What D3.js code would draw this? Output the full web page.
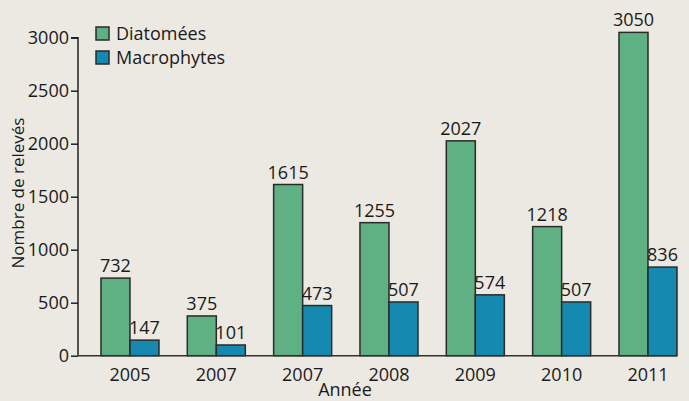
<!DOCTYPE html>
<html>
<head>
<meta charset="utf-8">
<script src="https://cdn.jsdelivr.net/npm/d3@7"></script>
<style>
  body { margin: 0; background: #ece9e3; }
  svg { display: block; font-family: "Open Sans", sans-serif; }
</style>
</head>
<body>
<div id="chart"></div>
<script>
// Données
const annees = ["2005", "2007", "2007", "2008", "2009", "2010", "2011"];
const diatomees = [732, 375, 1615, 1255, 2027, 1218, 3050];
const macrophytes = [147, 101, 473, 507, 574, 507, 836];
const series = ["Diatomées", "Macrophytes"];
const couleurs = ["#5fb184", "#1689b0"];
const yTicks = [0, 500, 1000, 1500, 2000, 2500, 3000];

const width = 689, height = 401;
const x0 = 78, x1 = 677, yBase = 355.7;
const fs = "18px";

const svg = d3.select("#chart").append("svg")
  .attr("width", width)
  .attr("height", height);

svg.append("rect")
  .attr("width", width).attr("height", height)
  .attr("fill", "#ece9e3");

// index des groupes (les années se répètent, donc on utilise l'indice)
const groupes = annees.map((d, i) => i);

const x = d3.scaleBand()
  .domain(groupes)
  .range([x0, x1])
  .paddingInner(0.328)
  .paddingOuter(0.133)
  .align(1);

const xSub = d3.scaleBand()
  .domain(series)
  .range([0, x.bandwidth()]);

const y = d3.scaleLinear()
  .domain([0, 3000])
  .range([yBase, 37.7]);

// axe Y
const yAxis = svg.append("g")
  .attr("transform", `translate(${x0},0)`)
  .call(d3.axisLeft(y).tickValues(yTicks).tickSize(7).tickPadding(2).tickFormat(d3.format("d")));
yAxis.select(".domain").attr("stroke", "#222").attr("stroke-width", 1.5)
  .attr("d", `M-7,${y(3000)}H0V${yBase}`);
yAxis.selectAll(".tick line").attr("stroke", "#222").attr("stroke-width", 1.5);
yAxis.selectAll(".tick text").attr("font-size", fs).attr("fill", "#1a1a1a")
  .attr("font-family", "'Open Sans', sans-serif");

// barres
const data = groupes.map(i => [
  { serie: series[0], val: diatomees[i] },
  { serie: series[1], val: macrophytes[i] }
]);

const g = svg.selectAll(".groupe")
  .data(data)
  .join("g")
  .attr("transform", (d, i) => `translate(${x(i)},0)`);

g.selectAll("rect")
  .data(d => d)
  .join("rect")
  .attr("x", d => xSub(d.serie))
  .attr("y", d => y(d.val))
  .attr("width", xSub.bandwidth())
  .attr("height", d => yBase - y(d.val))
  .attr("fill", (d, i) => couleurs[i])
  .attr("stroke", "#2a2a2a")
  .attr("stroke-width", 1.5);

g.selectAll("text")
  .data(d => d)
  .join("text")
  .attr("x", d => xSub(d.serie) + xSub.bandwidth() / 2)
  .attr("y", d => y(d.val) - 6)
  .attr("text-anchor", "middle")
  .attr("font-size", fs)
  .attr("fill", "#1a1a1a")
  .text(d => d.val);

// ligne de base
svg.append("line")
  .attr("x1", x0).attr("x2", x1)
  .attr("y1", yBase).attr("y2", yBase)
  .attr("stroke", "#333").attr("stroke-width", 1.5);

// étiquettes X
svg.selectAll(".xlab")
  .data(groupes)
  .join("text")
  .attr("x", i => x(i) + x.bandwidth() / 2)
  .attr("y", 381)
  .attr("text-anchor", "middle")
  .attr("font-size", fs)
  .attr("fill", "#1a1a1a")
  .text(i => annees[i]);

// titres des axes
svg.append("text")
  .attr("x", 345).attr("y", 396)
  .attr("text-anchor", "middle")
  .attr("font-size", fs)
  .attr("fill", "#1a1a1a")
  .text("Année");

svg.append("text")
  .attr("transform", "translate(24,193) rotate(-90)")
  .attr("text-anchor", "middle")
  .attr("font-size", "17px")
  .attr("fill", "#1a1a1a")
  .text("Nombre de relevés");

// légende
const leg = svg.selectAll(".leg")
  .data(series)
  .join("g")
  .attr("transform", (d, i) => `translate(96,${27 + i * 24})`);

leg.append("rect")
  .attr("width", 13).attr("height", 13)
  .attr("fill", (d, i) => couleurs[i])
  .attr("stroke", "#2a2a2a").attr("stroke-width", 1.5);

leg.append("text")
  .attr("x", 20).attr("y", 13)
  .attr("font-size", fs)
  .attr("fill", "#1a1a1a")
  .text(d => d);
</script>
</body>
</html>
